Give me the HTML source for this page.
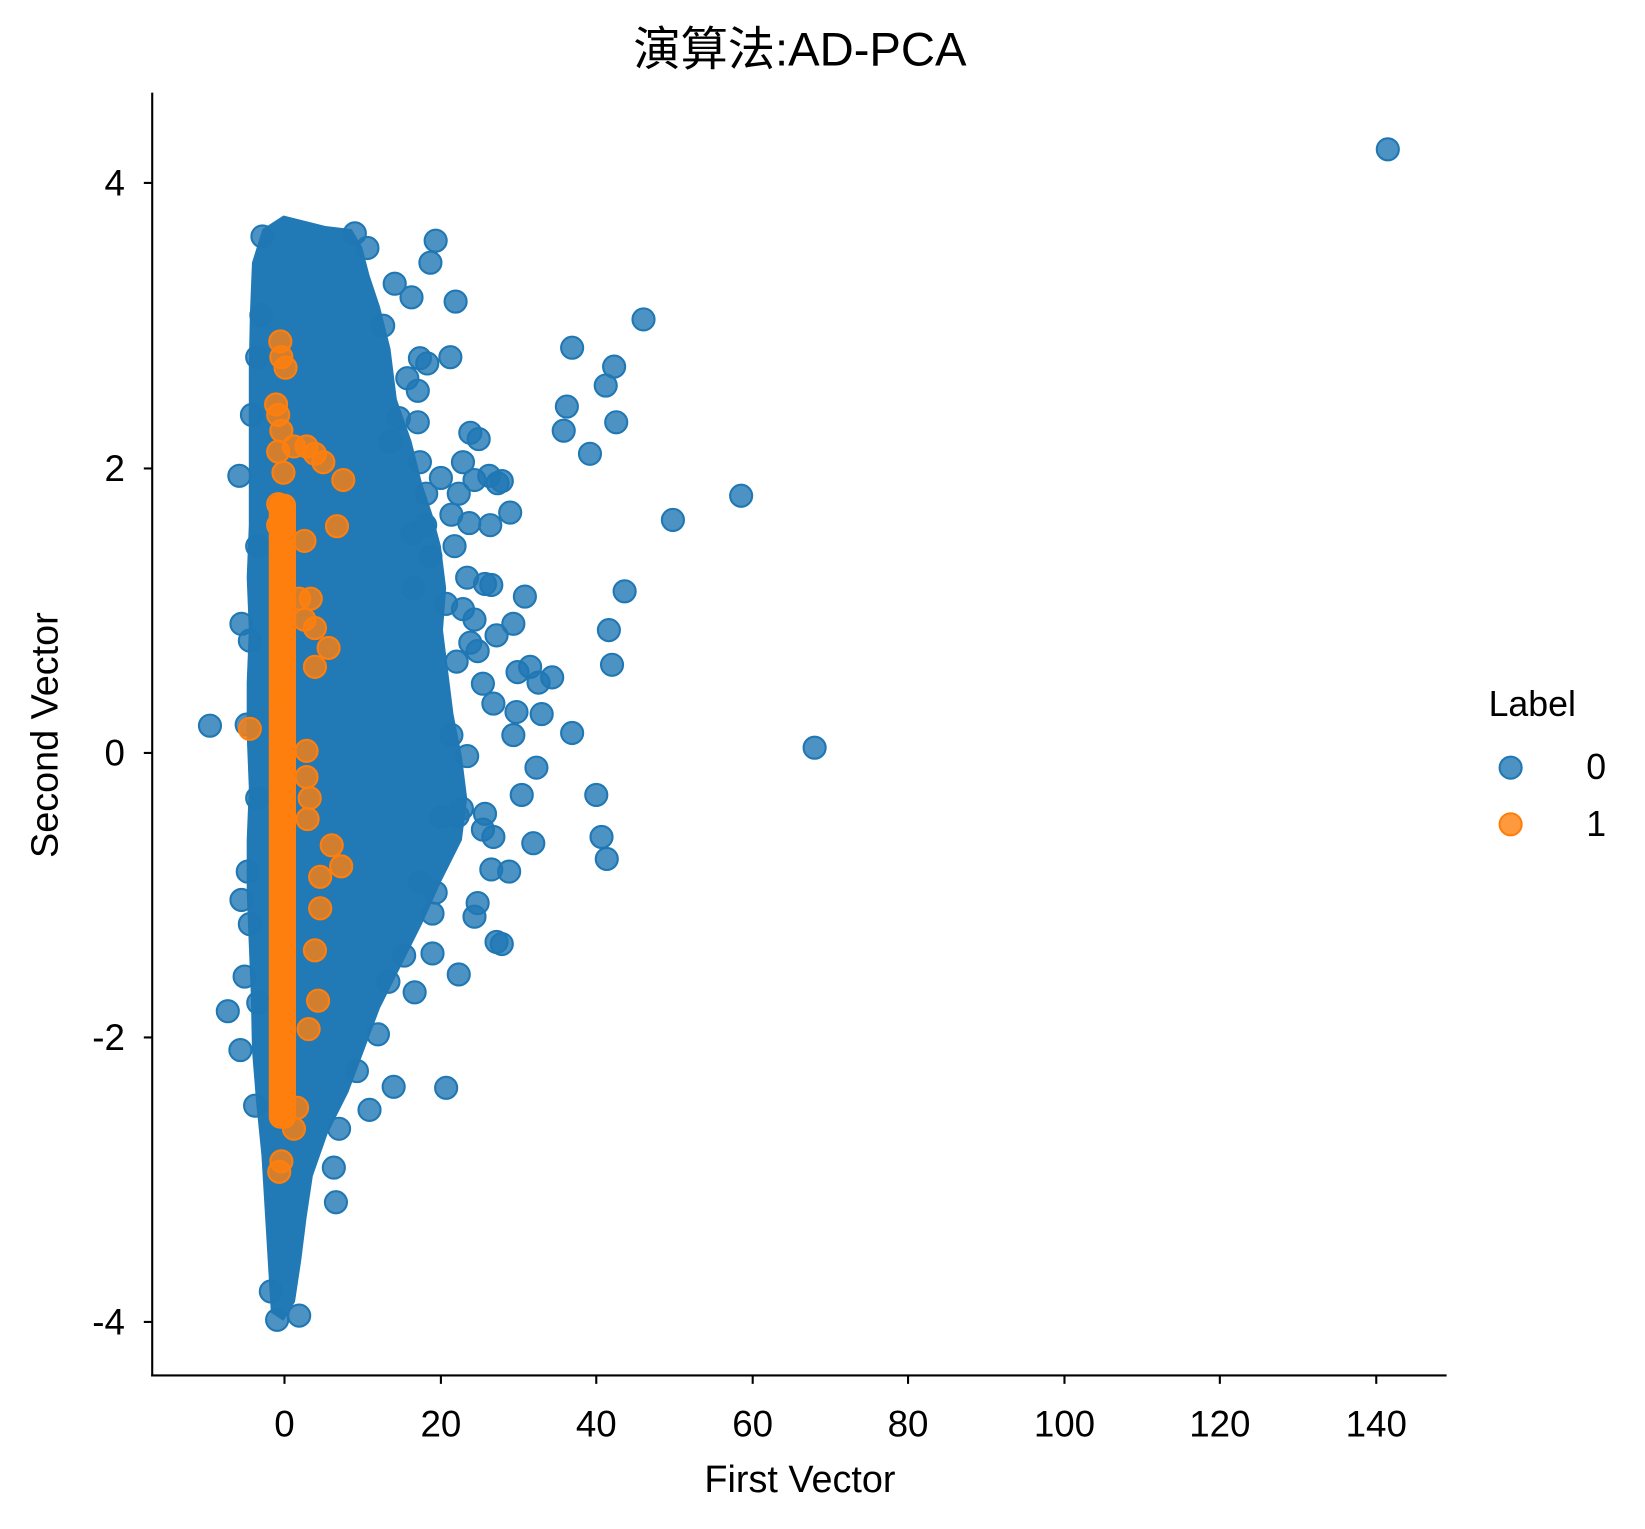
<!DOCTYPE html>
<html><head><meta charset="utf-8">
<style>html,body{margin:0;padding:0;background:#fff;}svg{display:block;}</style>
</head><body>
<svg width="1645" height="1529" viewBox="0 0 1567 1456" xmlns="http://www.w3.org/2000/svg" font-family="'Liberation Sans','Noto Sans CJK TC',sans-serif">
<rect width="1567" height="1456" fill="#fff"/>
<text x="762" y="62" font-size="45" text-anchor="middle" font-family="'Liberation Sans','Noto Sans CJK TC',sans-serif">演算法:AD-PCA</text>

<!-- dense blue mass -->
<path fill="#2179b6" d="M250,218 L270,205 L290,210 L310,215 L335,218 L345,235 L352,262 L362,292 L372,332 L378,380 L392,420 L402,460 L412,490 L420,520 L425,560 L422,600 L427,640 L432,680 L440,720 L445,760 L440,800 L420,840 L402,880 L382,920 L362,960 L347,1000 L332,1040 L312,1080 L298,1120 L292,1160 L287,1200 L281,1240 L270,1258 L258,1250 L255,1200 L252,1150 L249,1100 L244,1050 L240,1000 L239,950 L237,900 L235,850 L235,800 L237,750 L235,700 L235,650 L237,600 L235,550 L237,500 L237,450 L237,400 L237,350 L238,300 L240,250 Z"/>

<g fill="#1f77b4" fill-opacity="0.8" stroke="#1f77b4" stroke-width="2">
<circle cx="250" cy="225" r="10.5"/><circle cx="415" cy="229" r="10.5"/><circle cx="410" cy="250" r="10.5"/><circle cx="434" cy="287" r="10.5"/><circle cx="376" cy="270" r="10.5"/><circle cx="392" cy="283" r="10.5"/><circle cx="350" cy="236" r="10.5"/><circle cx="338" cy="222" r="10.5"/><circle cx="429" cy="340" r="10.5"/><circle cx="400" cy="341" r="10.5"/><circle cx="407" cy="346" r="10.5"/><circle cx="398" cy="372" r="10.5"/><circle cx="545" cy="331" r="10.5"/><circle cx="585" cy="349" r="10.5"/><circle cx="577" cy="367" r="10.5"/><circle cx="540" cy="387" r="10.5"/><circle cx="537" cy="410" r="10.5"/><circle cx="587" cy="402" r="10.5"/><circle cx="613" cy="304" r="10.5"/><circle cx="562" cy="432" r="10.5"/><circle cx="706" cy="472" r="10.5"/><circle cx="641" cy="495" r="10.5"/><circle cx="486" cy="488" r="10.5"/><circle cx="478" cy="458" r="10.5"/><circle cx="441" cy="440" r="10.5"/><circle cx="448" cy="412" r="10.5"/><circle cx="456" cy="418" r="10.5"/><circle cx="420" cy="455" r="10.5"/><circle cx="406" cy="470" r="10.5"/><circle cx="400" cy="440" r="10.5"/><circle cx="398" cy="402" r="10.5"/><circle cx="380" cy="398" r="10.5"/><circle cx="372" cy="420" r="10.5"/><circle cx="393" cy="508" r="10.5"/><circle cx="410" cy="530" r="10.5"/><circle cx="433" cy="520" r="10.5"/><circle cx="447" cy="498" r="10.5"/><circle cx="467" cy="500" r="10.5"/><circle cx="437" cy="470" r="10.5"/><circle cx="452" cy="457" r="10.5"/><circle cx="466" cy="453" r="10.5"/><circle cx="474" cy="460" r="10.5"/><circle cx="394" cy="560" r="10.5"/><circle cx="425" cy="575" r="10.5"/><circle cx="441" cy="580" r="10.5"/><circle cx="452" cy="590" r="10.5"/><circle cx="462" cy="556" r="10.5"/><circle cx="468" cy="557" r="10.5"/><circle cx="473" cy="605" r="10.5"/><circle cx="489" cy="594" r="10.5"/><circle cx="493" cy="640" r="10.5"/><circle cx="505" cy="635" r="10.5"/><circle cx="500" cy="568" r="10.5"/><circle cx="513" cy="650" r="10.5"/><circle cx="545" cy="698" r="10.5"/><circle cx="526" cy="645" r="10.5"/><circle cx="516" cy="680" r="10.5"/><circle cx="489" cy="700" r="10.5"/><circle cx="492" cy="678" r="10.5"/><circle cx="580" cy="600" r="10.5"/><circle cx="583" cy="633" r="10.5"/><circle cx="595" cy="563" r="10.5"/><circle cx="578" cy="818" r="10.5"/><circle cx="573" cy="797" r="10.5"/><circle cx="568" cy="757" r="10.5"/><circle cx="511" cy="731" r="10.5"/><circle cx="497" cy="757" r="10.5"/><circle cx="508" cy="803" r="10.5"/><circle cx="468" cy="828" r="10.5"/><circle cx="485" cy="830" r="10.5"/><circle cx="455" cy="860" r="10.5"/><circle cx="452" cy="873" r="10.5"/><circle cx="473" cy="897" r="10.5"/><circle cx="478" cy="899" r="10.5"/><circle cx="437" cy="928" r="10.5"/><circle cx="412" cy="908" r="10.5"/><circle cx="395" cy="945" r="10.5"/><circle cx="375" cy="1035" r="10.5"/><circle cx="425" cy="1036" r="10.5"/><circle cx="352" cy="1057" r="10.5"/><circle cx="320" cy="1145" r="10.5"/><circle cx="318" cy="1112" r="10.5"/><circle cx="200" cy="691" r="10.5"/><circle cx="228" cy="453" r="10.5"/><circle cx="230" cy="594" r="10.5"/><circle cx="217" cy="963" r="10.5"/><circle cx="230" cy="857" r="10.5"/><circle cx="240" cy="395" r="10.5"/><circle cx="420" cy="778" r="10.5"/><circle cx="436" cy="777" r="10.5"/><circle cx="440" cy="770" r="10.5"/><circle cx="460" cy="790" r="10.5"/><circle cx="462" cy="775" r="10.5"/><circle cx="470" cy="797" r="10.5"/><circle cx="405" cy="500" r="10.5"/><circle cx="430" cy="490" r="10.5"/><circle cx="445" cy="550" r="10.5"/><circle cx="448" cy="612" r="10.5"/><circle cx="455" cy="620" r="10.5"/><circle cx="460" cy="651" r="10.5"/><circle cx="470" cy="670" r="10.5"/><circle cx="435" cy="630" r="10.5"/><circle cx="430" cy="700" r="10.5"/><circle cx="445" cy="720" r="10.5"/><circle cx="400" cy="840" r="10.5"/><circle cx="415" cy="850" r="10.5"/><circle cx="412" cy="870" r="10.5"/><circle cx="385" cy="910" r="10.5"/><circle cx="370" cy="935" r="10.5"/><circle cx="360" cy="985" r="10.5"/><circle cx="340" cy="1020" r="10.5"/><circle cx="323" cy="1075" r="10.5"/><circle cx="285" cy="1253" r="10.5"/><circle cx="264" cy="1257" r="10.5"/><circle cx="258" cy="1230" r="10.5"/><circle cx="243" cy="1053" r="10.5"/><circle cx="246" cy="955" r="10.5"/><circle cx="238" cy="880" r="10.5"/><circle cx="236" cy="830" r="10.5"/><circle cx="238" cy="610" r="10.5"/><circle cx="235" cy="690" r="10.5"/><circle cx="776" cy="712" r="10.5"/><circle cx="1322" cy="142" r="10.5"/><circle cx="233" cy="930" r="10.5"/><circle cx="229" cy="1000" r="10.5"/><circle cx="249" cy="300" r="10.5"/><circle cx="245" cy="340" r="10.5"/><circle cx="245" cy="520" r="10.5"/><circle cx="245" cy="760" r="10.5"/><circle cx="365" cy="310" r="10.5"/><circle cx="388" cy="360" r="10.5"/>
</g>

<!-- orange series -->
<rect x="256" y="470" width="26" height="605" rx="11" fill="#ff7f0e"/>
<g fill="#ff7f0e" fill-opacity="0.8" stroke="#ff7f0e" stroke-width="2">
<circle cx="267" cy="325" r="10.5"/><circle cx="268" cy="340" r="10.5"/><circle cx="272" cy="350" r="10.5"/><circle cx="263" cy="385" r="10.5"/><circle cx="265" cy="395" r="10.5"/><circle cx="268" cy="410" r="10.5"/><circle cx="265" cy="430" r="10.5"/><circle cx="292" cy="425" r="10.5"/><circle cx="300" cy="432" r="10.5"/><circle cx="308" cy="440" r="10.5"/><circle cx="280" cy="425" r="10.5"/><circle cx="270" cy="450" r="10.5"/><circle cx="265" cy="480" r="10.5"/><circle cx="321" cy="501" r="10.5"/><circle cx="327" cy="457" r="10.5"/><circle cx="265" cy="500" r="10.5"/><circle cx="290" cy="515" r="10.5"/><circle cx="285" cy="570" r="10.5"/><circle cx="296" cy="570" r="10.5"/><circle cx="290" cy="590" r="10.5"/><circle cx="300" cy="598" r="10.5"/><circle cx="313" cy="617" r="10.5"/><circle cx="300" cy="635" r="10.5"/><circle cx="238" cy="694" r="10.5"/><circle cx="292" cy="715" r="10.5"/><circle cx="268" cy="665" r="10.5"/><circle cx="292" cy="740" r="10.5"/><circle cx="295" cy="760" r="10.5"/><circle cx="293" cy="780" r="10.5"/><circle cx="316" cy="805" r="10.5"/><circle cx="325" cy="825" r="10.5"/><circle cx="305" cy="835" r="10.5"/><circle cx="305" cy="865" r="10.5"/><circle cx="300" cy="905" r="10.5"/><circle cx="303" cy="953" r="10.5"/><circle cx="294" cy="980" r="10.5"/><circle cx="283" cy="1055" r="10.5"/><circle cx="280" cy="1075" r="10.5"/><circle cx="268" cy="1106" r="10.5"/><circle cx="266" cy="1116" r="10.5"/>
</g>

<!-- axes -->
<g stroke="#000" stroke-width="2" fill="none">
<line x1="145" y1="88" x2="145" y2="1311"/>
<line x1="144" y1="1310" x2="1378" y2="1310"/>
<line x1="271" y1="1310" x2="271" y2="1318"/><line x1="420" y1="1310" x2="420" y2="1318"/><line x1="568" y1="1310" x2="568" y2="1318"/><line x1="717" y1="1310" x2="717" y2="1318"/><line x1="865" y1="1310" x2="865" y2="1318"/><line x1="1014" y1="1310" x2="1014" y2="1318"/><line x1="1162" y1="1310" x2="1162" y2="1318"/><line x1="1311" y1="1310" x2="1311" y2="1318"/>
<line x1="137" y1="174" x2="145" y2="174"/><line x1="137" y1="446" x2="145" y2="446"/><line x1="137" y1="717" x2="145" y2="717"/><line x1="137" y1="988" x2="145" y2="988"/><line x1="137" y1="1259" x2="145" y2="1259"/>
</g>
<g font-size="35" text-anchor="middle" fill="#000">
<text x="271" y="1368">0</text><text x="420" y="1368">20</text><text x="568" y="1368">40</text><text x="717" y="1368">60</text><text x="865" y="1368">80</text><text x="1014" y="1368">100</text><text x="1162" y="1368">120</text><text x="1311" y="1368">140</text>
</g>
<g font-size="35" text-anchor="end" fill="#000">
<text x="119" y="186">4</text><text x="119" y="458">2</text><text x="119" y="729">0</text><text x="119" y="1000">-2</text><text x="119" y="1271">-4</text>
</g>
<text x="762" y="1421" font-size="36" text-anchor="middle">First Vector</text>
<text transform="translate(55,700) rotate(-90)" font-size="36" text-anchor="middle">Second Vector</text>

<!-- legend -->
<text x="1418" y="682" font-size="34">Label</text>
<circle cx="1439" cy="731" r="10.5" fill="#1f77b4" fill-opacity="0.8" stroke="#1f77b4" stroke-width="2"/>
<circle cx="1439" cy="785" r="10.5" fill="#ff7f0e" fill-opacity="0.8" stroke="#ff7f0e" stroke-width="2"/>
<text x="1530" y="742" font-size="34" text-anchor="end">0</text>
<text x="1530" y="796" font-size="34" text-anchor="end">1</text>
</svg>
</body></html>
